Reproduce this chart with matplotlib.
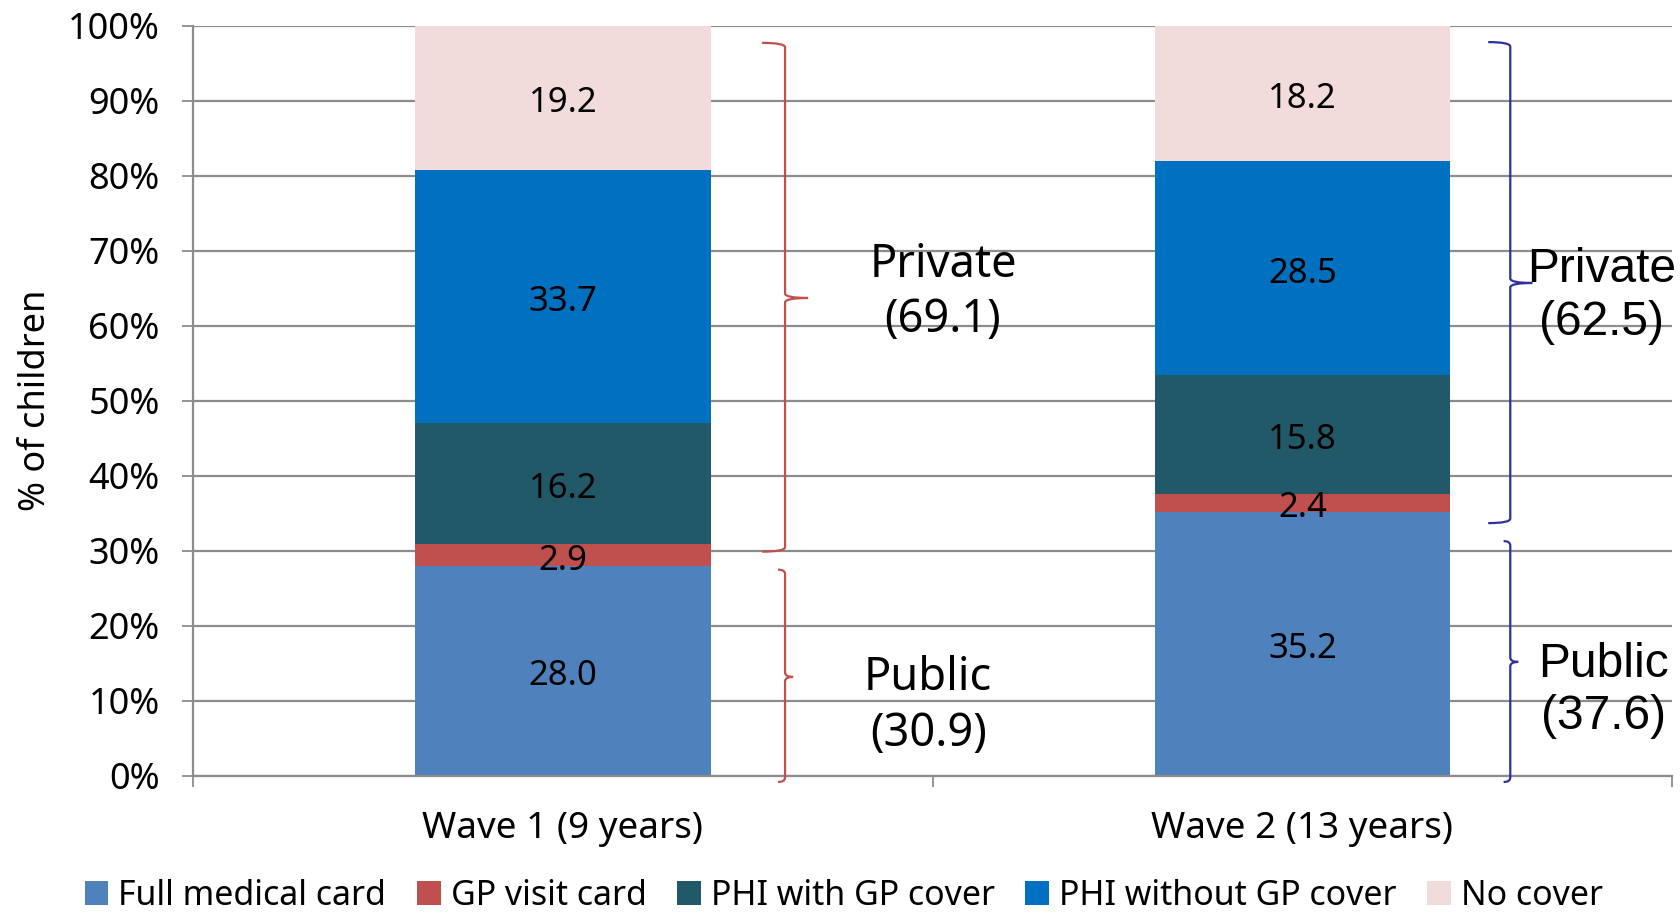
import numpy as np
import matplotlib
matplotlib.use("Agg")
from matplotlib import pyplot as plt
from matplotlib.path import Path
from matplotlib.patches import PathPatch
from matplotlib.ticker import FixedLocator, PercentFormatter

plt.rcParams['font.family'] = ['Noto Sans', 'DejaVu Sans']

# cover type shares (% of children) per wave
waves = ["Wave 1 (9 years)", "Wave 2 (13 years)"]
cover_types = ["Full medical card", "GP visit card", "PHI with GP cover",
               "PHI without GP cover", "No cover"]
full_medical = [28.0, 35.2]
gp_visit = [2.9, 2.4]
phi_with_gp = [16.2, 15.8]
phi_without_gp = [33.7, 28.5]
no_cover = [19.2, 18.2]

colours = ["#4F81BD", "#C0504D", "#215968", "#0070C0", "#F2DCDB"]
series = [full_medical, gp_visit, phi_with_gp, phi_without_gp, no_cover]

fig = plt.figure(figsize=(16.81, 9.14), dpi=100)
ax = fig.add_axes([0.1148, 0.151, 0.88, 0.821])

x = np.arange(len(waves))
bottom = np.zeros(len(waves))
for vals, col, name in zip(series, colours, cover_types):
    vals = np.array(vals)
    ax.bar(x, vals, 0.4, bottom=bottom, color=col, label=name, zorder=2)
    for xi, b, v in zip(x, bottom, vals):
        ax.annotate(f"{v:.1f}", (xi, b + v / 2), xytext=(0, -4),
                    textcoords='offset points', ha='center', va='center',
                    fontsize=25, zorder=3)
    bottom += vals

ax.set_xlim(-0.5, 1.5)
ax.set_ylim(0, 100)
ax.yaxis.set_major_locator(FixedLocator(np.arange(0, 101, 10)))
ax.yaxis.set_major_formatter(PercentFormatter(decimals=0))
ax.grid(axis='y', color='#8c8c8c', linewidth=1.6, zorder=0)
ax.set_axisbelow(True)
ax.tick_params(axis='y', length=8, width=1.3, color='#8c8c8c', pad=16,
               labelsize=26)
ax.set_xticks(x)
ax.set_xticklabels(waves)
ax.tick_params(axis='x', length=0, pad=25, labelsize=26.5)
ax.set_xticks([-0.5, 0.5, 1.5], minor=True)
ax.tick_params(axis='x', which='minor', length=8, width=1.3, color='#8c8c8c')
for s in ['top', 'right']:
    ax.spines[s].set_visible(False)
for s in ['left', 'bottom']:
    ax.spines[s].set_color('#8c8c8c')
    ax.spines[s].set_linewidth(1.6)
ax.set_ylabel("% of children", fontsize=26, labelpad=14)
ax.yaxis.set_label_coords(-0.094, 0.5)


def brace(xv, xhook, xtip, y0, y1, ytip, col, r=0.6):
    verts = [(xhook, y1), (xv, y1), (xv, y1 - r),
             (xv, ytip + r), (xv, ytip), (xtip, ytip),
             (xv, ytip), (xv, ytip - r),
             (xv, y0 + r), (xv, y0), (xhook, y0)]
    codes = [Path.MOVETO, Path.CURVE3, Path.CURVE3,
             Path.LINETO, Path.CURVE3, Path.CURVE3,
             Path.CURVE3, Path.CURVE3,
             Path.LINETO, Path.CURVE3, Path.CURVE3]
    ax.add_patch(PathPatch(Path(verts, codes), facecolor='none',
                           edgecolor=col, linewidth=1.6, clip_on=False,
                           zorder=4))


# public = medical card + GP visit card, private = the rest
public = [full_medical[i] + gp_visit[i] for i in range(len(waves))]
private = [phi_with_gp[i] + phi_without_gp[i] + no_cover[i]
           for i in range(len(waves))]

red, blue = "#C0504D", "#2E30A0"
brace(0.3005, 0.2695, 0.3316, 29.9, 97.7, 63.7, red)
brace(0.3005, 0.2910, 0.3114, -0.8, 27.5, 13.2, red)
brace(1.281, 1.2512, 1.3107, 33.7, 97.8, 65.7, blue)
brace(1.281, 1.2720, 1.2917, -0.8, 31.3, 15.2, blue)

ax.text(0.514, 64.4, f"Private\n({private[0]:.1f})", ha='center',
        va='center', fontsize=32.5, linespacing=1.27, zorder=5)
ax.text(0.494, 9.3, f"Public\n({public[0]:.1f})", ha='center',
        va='center', fontsize=32.5, linespacing=1.27, zorder=5)
ax.text(1.405, 64.0, f"Private\n({private[1]:.1f})", ha='center',
        va='center', fontsize=34.5, linespacing=1.22, zorder=5,
        family='Liberation Sans')
ax.text(1.407, 11.4, f"Public\n({public[1]:.1f})", ha='center',
        va='center', fontsize=34.5, linespacing=1.22, zorder=5,
        family='Liberation Sans')

fig.legend(loc='center', bbox_to_anchor=(0.502, 0.02), ncol=5,
           frameon=False, fontsize=24.4, handlelength=0.7, handleheight=0.7,
           handletextpad=0.3, columnspacing=0.9, borderpad=0)

fig.savefig("out.png", dpi=100)
